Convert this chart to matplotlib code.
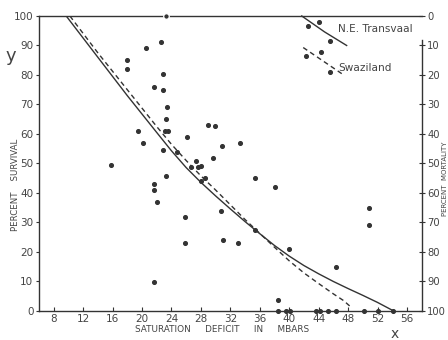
import numpy as np
import matplotlib
matplotlib.use('Agg')
import matplotlib.pyplot as plt

# observations: saturation deficit (mbar) vs percent survival
sat_def = [23.2, 22.6, 20.5, 18.0, 17.9, 22.9, 21.6, 22.9, 23.4, 23.3,
           23.1, 23.5, 19.5, 20.1, 28.9, 29.9, 26.1, 30.8, 33.3, 15.8,
           22.9, 24.8, 27.3, 26.7, 27.6, 28.0, 29.7, 23.3, 21.6, 21.6,
           22.1, 28.5, 28.0, 35.3, 25.9, 30.7, 25.9, 31.0, 33.1, 21.6,
           35.4, 38.0, 50.8, 50.8, 39.9, 46.4, 38.5,
           38.5, 39.6, 40.1, 43.7, 44.2, 45.2, 46.4, 50.1, 52.0, 54.1]
survival = [100, 91.1, 89.0, 85.1, 81.9, 80.2, 75.8, 74.9, 69.0, 65.1,
            61.0, 61.0, 61.1, 56.8, 62.9, 62.7, 59.1, 55.8, 57.1, 49.6,
            54.7, 54.0, 50.8, 48.9, 48.9, 49.2, 52.0, 45.8, 43.1, 41.0,
            36.9, 45.0, 43.9, 45.1, 31.9, 34.0, 22.9, 24.0, 23.2, 9.7,
            27.3, 41.9, 35.0, 29.0, 20.9, 14.8, 3.7,
            0, 0, 0, 0, 0, 0, 0, 0, 0, 0]

# fitted curves
ne_fit_x = [9.7, 14, 18, 22, 24, 26, 28, 30, 32, 34, 36, 38, 40, 42, 44,
            46, 48, 50, 52, 54.2]
ne_fit_y = [100, 86, 73, 60.5, 54.3, 48.6, 43.6, 39.0, 34.6, 30.3, 26.2,
            22.2, 18.6, 15.4, 12.6, 10.0, 7.6, 5.3, 2.9, 0]
sw_fit_x = [10.2, 14, 18, 22, 24, 26, 28, 30, 32, 34, 36, 38, 40, 42, 44,
            46, 47.4, 48.3]
sw_fit_y = [100, 87.5, 75, 62.5, 56.5, 51, 45.8, 41, 36, 31, 26.3, 21.6,
            17.0, 12.9, 9.3, 5.8, 3.5, 1.5]

# little key in the top right corner
key_ne_x = [41.7, 44.8, 47.8]
key_ne_y = [100, 94.6, 90.0]
key_ne_pts_x = [42.6, 44.1, 45.5]
key_ne_pts_y = [96.7, 98.1, 91.6]
key_sw_x = [41.9, 47.4]
key_sw_y = [89.3, 80.0]
key_sw_pts_x = [42.3, 44.3, 45.6]
key_sw_pts_y = [86.5, 87.7, 81.1]

ink = '#333333'
txt = '#444444'

fig = plt.figure(figsize=(4.48, 3.40), dpi=100)
ax = fig.add_axes([0.087, 0.0853, 0.856, 0.8677])

ax.plot(ne_fit_x, ne_fit_y, color=ink, lw=1.0)
ax.plot(sw_fit_x, sw_fit_y, color=ink, lw=1.0, ls=(0, (3.5, 2.5)))
ax.scatter(sat_def[1:], survival[1:], s=7, color=ink, zorder=3, clip_on=False)
# the dot sitting on the top border breaks the line around it
ax.scatter(sat_def[:1], survival[:1], s=16, color=ink, edgecolors='white',
           linewidths=0.9, zorder=4, clip_on=False)

ax.plot(key_ne_x, key_ne_y, color=ink, lw=1.0, clip_on=False)
ax.plot(key_sw_x, key_sw_y, color=ink, lw=1.0, ls=(0, (3.5, 2.5)))
ax.scatter(key_ne_pts_x, key_ne_pts_y, s=7, color=ink, zorder=3, clip_on=False)
ax.scatter(key_sw_pts_x, key_sw_pts_y, s=7, color=ink, zorder=3)
ax.text(46.6, 95.6, 'N.E. Transvaal', fontsize=7.6, color=txt, va='center')
ax.text(46.6, 82.4, 'Swaziland', fontsize=7.6, color=txt, va='center')

ax.set_xlim(6, 58.1)
ax.set_ylim(0, 100)
ax.set_xticks(np.arange(8, 57, 4))
ax.set_yticks(np.arange(0, 101, 10))
ax.tick_params(axis='x', direction='in', length=3, width=0.8, pad=2,
               labelsize=7.5, labelcolor=txt, color=ink)
ax.tick_params(axis='y', direction='out', length=2, width=0.8, pad=2,
               labelsize=7.5, labelcolor=txt, color=ink)
for s in ['left', 'bottom', 'top']:
    ax.spines[s].set_color(ink)
    ax.spines[s].set_linewidth(1.0)
ax.spines['right'].set_visible(False)

ax2 = ax.twinx()
ax2.set_ylim(100, 0)
ax2.set_yticks(np.arange(0, 101, 10))
ax2.tick_params(axis='y', direction='inout', length=5, width=0.8, pad=1,
                labelsize=7.2, labelcolor=txt, color=ink)
for s in ['left', 'bottom', 'top']:
    ax2.spines[s].set_visible(False)
ax2.spines['right'].set_bounds(8, 100)
ax2.spines['right'].set_color(ink)
ax2.spines['right'].set_linewidth(1.0)

fig.text(0.495, 0.032, 'SATURATION     DEFICIT     IN     MBARS', fontsize=6.4,
         color=txt, ha='center', va='center')
fig.text(0.034, 0.455, 'PERCENT    SURVIVAL', fontsize=6.2, color=txt,
         rotation=90, ha='center', va='center')
fig.text(0.993, 0.475, 'PERCENT  MORTALITY', fontsize=5.0, color=txt,
         rotation=90, ha='center', va='center')
fig.text(0.024, 0.835, 'y', fontsize=13, color=txt, ha='center', va='center')
fig.text(0.88, 0.018, 'x', fontsize=10, color=txt, ha='center', va='center')

plt.savefig('out.png', dpi=100, facecolor='white')
